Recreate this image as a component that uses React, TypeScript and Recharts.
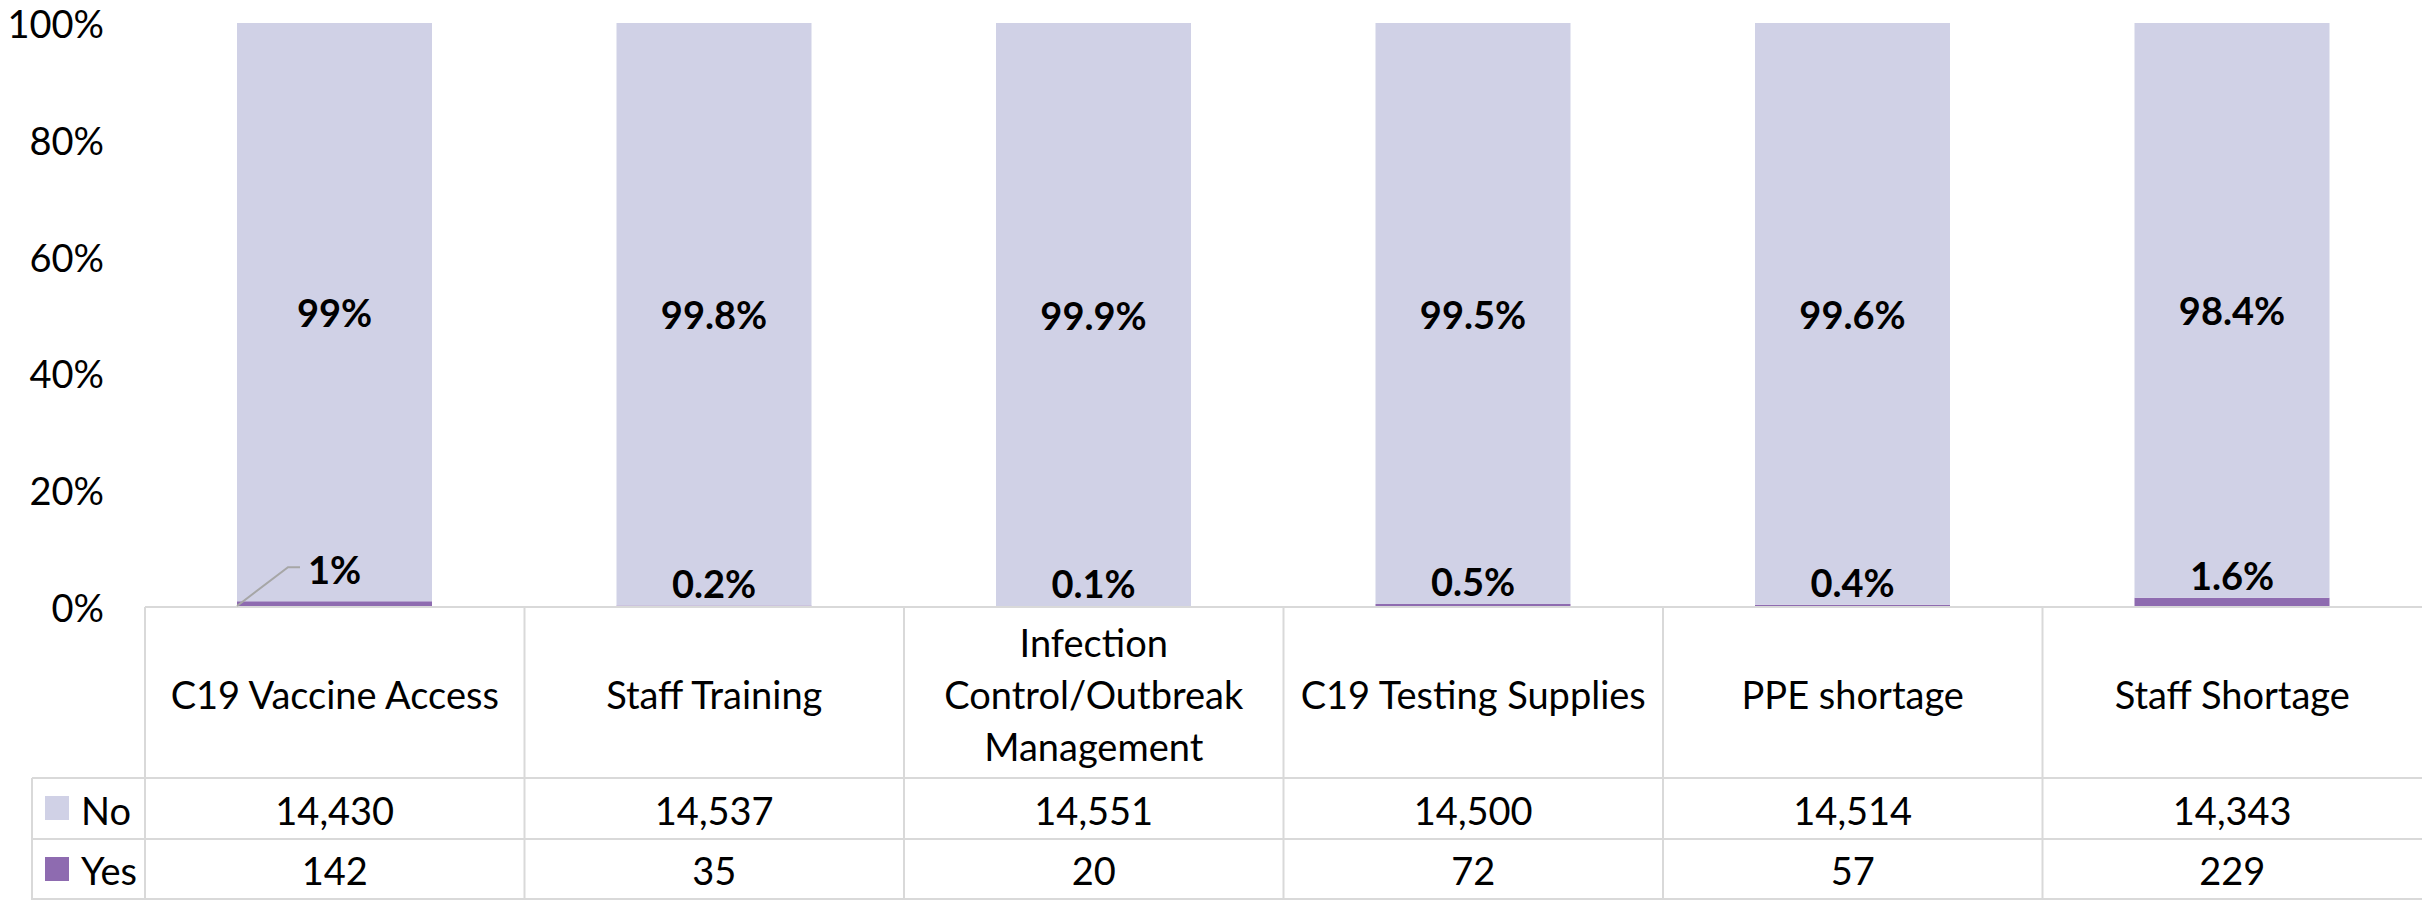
import React from 'react';
import { BarChart, Bar, XAxis, YAxis, LabelList } from 'recharts';

// ---- data ----
const categories = [
  'C19 Vaccine Access',
  'Staff Training',
  'Infection Control/Outbreak Management',
  'C19 Testing Supplies',
  'PPE shortage',
  'Staff Shortage',
];
const categoryLines = [
  ['C19 Vaccine Access'],
  ['Staff Training'],
  ['Infection', 'Control/Outbreak', 'Management'],
  ['C19 Testing Supplies'],
  ['PPE shortage'],
  ['Staff Shortage'],
];
const noCounts = [14430, 14537, 14551, 14500, 14514, 14343];
const yesCounts = [142, 35, 20, 72, 57, 229];
const noLabels = ['99%', '99.8%', '99.9%', '99.5%', '99.6%', '98.4%'];
const yesLabels = ['1%', '0.2%', '0.1%', '0.5%', '0.4%', '1.6%'];
const yTicks = [0, 0.2, 0.4, 0.6, 0.8, 1];
const seriesNames = ['No', 'Yes'];

const data = categories.map((name, i) => ({
  name,
  No: noCounts[i],
  Yes: yesCounts[i],
  noLabel: noLabels[i],
  yesLabel: yesLabels[i],
}));

// ---- layout / style ----
const W = 2422;
const H = 900;
const TOP = 23;
const PLOT_LEFT = 145;
const XAXIS_H = 293;
const BAND = (W - PLOT_LEFT) / categories.length;
const PLOT_BOTTOM = H - XAXIS_H;
const ROW1 = 778;
const ROW2 = 839;
const ROW3 = 899;
const TABLE_LEFT = 32;
const FONT = 'Lato, "Open Sans", sans-serif';
const FS = 38;
const NO_COLOR = '#D0D1E6';
const YES_COLOR = '#8E6BB0';
const GRID = '#D9D9D9';

const YTick = (props: any) => {
  const { y, payload } = props;
  return (
    <text x={104} y={y} textAnchor="end" dominantBaseline="central" fontFamily={FONT} fontSize={FS} fill="#000">
      {`${Math.round(payload.value * 100)}%`}
    </text>
  );
};

const TableTick = (props: any) => {
  const { x, payload } = props;
  const i: number = payload.index ?? props.index ?? 0;
  const left = x - BAND / 2;
  const lines = categoryLines[i];
  const headerMid = (PLOT_BOTTOM + ROW1) / 2 + 1;
  const lh = 52;
  const startY = headerMid - ((lines.length - 1) * lh) / 2;
  return (
    <g>
      {i === 0 && (
        <g>
          <line x1={TABLE_LEFT} y1={ROW1} x2={W} y2={ROW1} stroke={GRID} strokeWidth={2} />
          <line x1={TABLE_LEFT} y1={ROW2} x2={W} y2={ROW2} stroke={GRID} strokeWidth={2} />
          <line x1={TABLE_LEFT} y1={ROW3} x2={W} y2={ROW3} stroke={GRID} strokeWidth={2} />
          <line x1={TABLE_LEFT} y1={ROW1} x2={TABLE_LEFT} y2={H} stroke={GRID} strokeWidth={2} />
          <rect x={45} y={796} width={24} height={24} fill={NO_COLOR} />
          <rect x={45} y={857} width={24} height={24} fill={YES_COLOR} />
          <text x={81} y={(ROW1 + ROW2) / 2 + 1} dominantBaseline="central" fontFamily={FONT} fontSize={FS} fill="#000">
            {seriesNames[0]}
          </text>
          <text x={81} y={(ROW2 + ROW3) / 2 + 1} dominantBaseline="central" fontFamily={FONT} fontSize={FS} fill="#000">
            {seriesNames[1]}
          </text>
        </g>
      )}
      <line x1={left} y1={PLOT_BOTTOM} x2={left} y2={H} stroke={GRID} strokeWidth={2} />
      {lines.map((ln, k) => (
        <text key={k} x={x} y={startY + k * lh} textAnchor="middle" dominantBaseline="central" fontFamily={FONT} fontSize={FS} fill="#000">
          {ln}
        </text>
      ))}
      <text x={x} y={(ROW1 + ROW2) / 2 + 1} textAnchor="middle" dominantBaseline="central" fontFamily={FONT} fontSize={FS} fill="#000">
        {noCounts[i].toLocaleString('en-US')}
      </text>
      <text x={x} y={(ROW2 + ROW3) / 2 + 1} textAnchor="middle" dominantBaseline="central" fontFamily={FONT} fontSize={FS} fill="#000">
        {yesCounts[i].toLocaleString('en-US')}
      </text>
    </g>
  );
};

const NoLabel = (props: any) => {
  const { x, y, width, height, value } = props;
  return (
    <text x={x + width / 2} y={y + height / 2} textAnchor="middle" dominantBaseline="central" fontFamily={FONT} fontSize={FS} fontWeight="bold" fill="#000">
      {value}
    </text>
  );
};

const YesLabel = (props: any) => {
  const { x, y, width, height, value, index } = props;
  const cx = x + width / 2;
  if (index === 0) {
    const ly = y - 34;
    return (
      <g>
        <polyline points={`${x},${y + height - 1} ${x + 51},${ly} ${x + 63},${ly}`} fill="none" stroke="#A6A6A6" strokeWidth={2} />
        <text x={cx} y={y - 32} textAnchor="middle" dominantBaseline="central" fontFamily={FONT} fontSize={FS} fontWeight="bold" fill="#000">
          {value}
        </text>
      </g>
    );
  }
  return (
    <text x={cx} y={y - 23} textAnchor="middle" dominantBaseline="central" fontFamily={FONT} fontSize={FS} fontWeight="bold" fill="#000">
      {value}
    </text>
  );
};

export default function App() {
  return (
    <div style={{ position: 'absolute', left: 0, top: 0, width: W, height: H, background: '#fff' }}>
      <BarChart
        width={W}
        height={H}
        data={data}
        stackOffset="expand"
        margin={{ top: TOP, right: 0, bottom: 0, left: 0 }}
      >
        <XAxis
          dataKey="name"
          height={XAXIS_H}
          interval={0}
          tick={<TableTick />}
          tickLine={false}
          axisLine={{ stroke: GRID, strokeWidth: 2 }}
        />
        <YAxis
          width={PLOT_LEFT}
          domain={[0, 1]}
          ticks={yTicks}
          tick={<YTick />}
          tickLine={false}
          axisLine={false}
        />
        <Bar dataKey="Yes" name={seriesNames[1]} stackId="a" fill={YES_COLOR} barSize={195} isAnimationActive={false}>
          <LabelList dataKey="yesLabel" content={<YesLabel />} />
        </Bar>
        <Bar dataKey="No" name={seriesNames[0]} stackId="a" fill={NO_COLOR} barSize={195} isAnimationActive={false}>
          <LabelList dataKey="noLabel" content={<NoLabel />} />
        </Bar>
      </BarChart>
    </div>
  );
}
